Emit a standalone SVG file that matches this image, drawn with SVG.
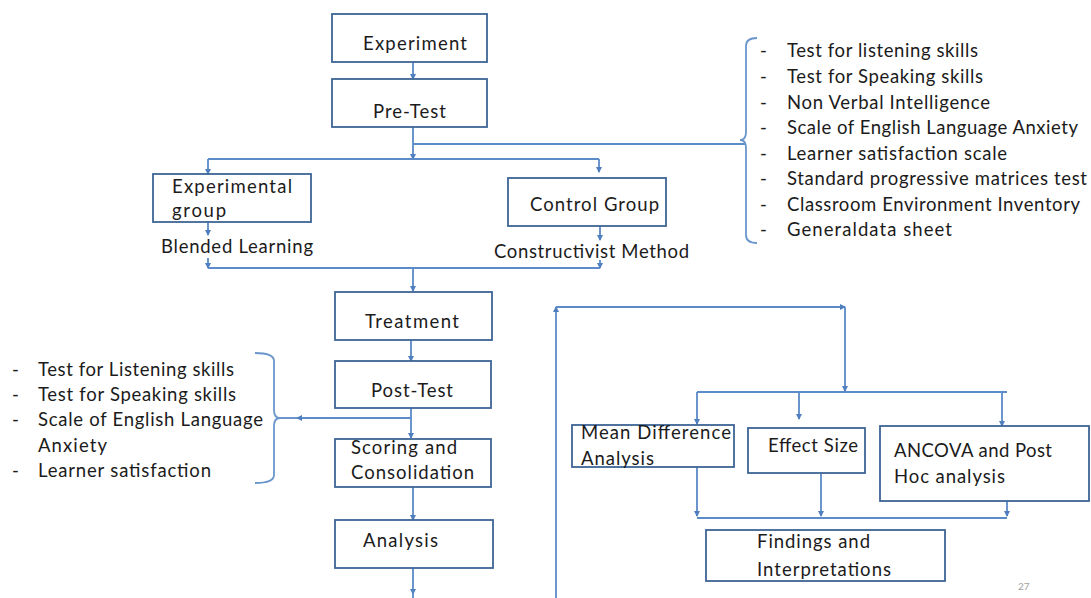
<svg xmlns="http://www.w3.org/2000/svg" width="1091" height="598" viewBox="0 0 1091 598">
<defs>
<marker id="ah" markerWidth="6" markerHeight="6" refX="5" refY="3" orient="auto" markerUnits="userSpaceOnUse">
<path d="M0,0 L6,3 L0,6 z" fill="#4f7fbf"/>
</marker>
<style>
.box{fill:#fff;stroke:#3d6496;stroke-width:1.8}
.c{fill:none;stroke:#5b8bc8;stroke-width:1.8}
.ca{fill:none;stroke:#5b8bc8;stroke-width:1.8;marker-end:url(#ah)}
.br{fill:none;stroke:#6a96cc;stroke-width:1.8}
text{font-family:Lato,"Liberation Sans",sans-serif;font-size:18.5px;fill:#1b1b1b}
.pg{font-size:10px;fill:#a0a0a0}
</style>
</defs>
<rect width="1091" height="598" fill="#fff"/>

<g id="connectors">
<path class="ca" d="M413,62 V79"/>
<path class="ca" d="M413,127 V159"/>
<path class="c" d="M413,144 H745"/>
<path class="c" d="M208,159 H599"/>
<path class="ca" d="M208,159 V174"/>
<path class="ca" d="M599,159 V172"/>
<path class="ca" d="M208,222 V235"/>
<path class="ca" d="M600,226 V240"/>
<path class="ca" d="M208,258 V268"/>
<path class="ca" d="M600,260 V268"/>
<path class="c" d="M208,268 H600"/>
<path class="ca" d="M413,268 V291"/>
<path class="ca" d="M411,340 V361"/>
<path class="ca" d="M411,408 V438"/>
<path class="ca" d="M411,418 H297"/>
<path class="c" d="M298,418 H276"/>
<path class="ca" d="M413,487 V520"/>
<path class="ca" d="M413,568 V594"/>
<path class="c" d="M413,590 V598"/>
<path class="ca" d="M556,598 V307"/>
<path class="ca" d="M556,307 H845"/>
<path class="ca" d="M845,307 V391"/>
<path class="c" d="M697,392 H1007"/>
<path class="ca" d="M697,392 V424"/>
<path class="ca" d="M799,392 V419"/>
<path class="ca" d="M1002,392 V426"/>
<path class="ca" d="M697,467 V516"/>
<path class="ca" d="M821,473 V516"/>
<path class="ca" d="M1007,501 V516"/>
<path class="c" d="M697,518 H1007"/>
<path class="br" d="M757,38 Q746,38 746,46 V132 Q746,140 740,140 Q746,140 746,148 V235 Q746,243 757,243"/>
<path class="br" d="M255,353 Q274,353 274,361 V410 Q274,418 280,418 Q274,418 274,426 V475 Q274,483 255,483"/>
</g>

<g id="experiment">
<rect class="box" x="332" y="14" width="155" height="48"/>
<text x="363" y="50" textLength="104">Experiment</text>
</g>
<g id="pretest">
<rect class="box" x="332" y="79" width="155" height="48"/>
<text x="373" y="118" textLength="73">Pre-Test</text>
</g>
<g id="experimental-group">
<rect class="box" x="153" y="174" width="158" height="48"/>
<text x="172" y="193" textLength="120">Experimental</text>
<text x="172" y="217" textLength="54">group</text>
</g>
<g id="blended">
<text x="161" y="253" textLength="152">Blended Learning</text>
</g>
<g id="control-group">
<rect class="box" x="508" y="178" width="158" height="48"/>
<text x="530" y="211" textLength="129">Control Group</text>
</g>
<g id="constructivist">
<text x="494" y="258" textLength="195">Constructivist Method</text>
</g>
<g id="pretest-list">
<text x="760" y="57">-</text><text x="787" y="57" textLength="191">Test for listening skills</text>
<text x="760" y="83">-</text><text x="787" y="83" textLength="196">Test for Speaking skills</text>
<text x="760" y="109">-</text><text x="787" y="109" textLength="203">Non Verbal Intelligence</text>
<text x="760" y="134">-</text><text x="787" y="134" textLength="291">Scale of English Language Anxiety</text>
<text x="760" y="160">-</text><text x="787" y="160" textLength="220">Learner satisfaction scale</text>
<text x="760" y="185">-</text><text x="787" y="185" textLength="300">Standard progressive matrices test</text>
<text x="760" y="211">-</text><text x="787" y="211" textLength="293">Classroom Environment Inventory</text>
<text x="760" y="236">-</text><text x="787" y="236" textLength="165">Generaldata sheet</text>
</g>
<g id="treatment">
<rect class="box" x="335" y="292" width="157" height="48"/>
<text x="365" y="328" textLength="94">Treatment</text>
</g>
<g id="posttest">
<rect class="box" x="335" y="361" width="156" height="47"/>
<text x="371" y="397" textLength="82">Post-Test</text>
</g>
<g id="posttest-list">
<text x="12" y="376">-</text><text x="38" y="376" textLength="196">Test for Listening skills</text>
<text x="12" y="401">-</text><text x="38" y="401" textLength="198">Test for Speaking skills</text>
<text x="12" y="426">-</text><text x="38" y="426" textLength="225">Scale of English Language</text>
<text x="38" y="452" textLength="69">Anxiety</text>
<text x="12" y="477">-</text><text x="38" y="477" textLength="173">Learner satisfaction</text>
</g>
<g id="scoring">
<rect class="box" x="335" y="439" width="156" height="48"/>
<text x="351" y="454" textLength="106">Scoring and</text>
<text x="351" y="479" textLength="123">Consolidation</text>
</g>
<g id="analysis">
<rect class="box" x="335" y="520" width="158" height="48"/>
<text x="363" y="547" textLength="75">Analysis</text>
</g>
<g id="mean-difference">
<rect class="box" x="572" y="425" width="162" height="42"/>
<text x="581" y="439" textLength="150">Mean Difference</text>
<text x="581" y="465" textLength="73">Analysis</text>
</g>
<g id="effect-size">
<rect class="box" x="748" y="428" width="117" height="45"/>
<text x="768" y="452" textLength="90">Effect Size</text>
</g>
<g id="ancova">
<rect class="box" x="880" y="426" width="209" height="75"/>
<text x="894" y="457" textLength="158">ANCOVA and Post</text>
<text x="894" y="483" textLength="111">Hoc analysis</text>
</g>
<g id="findings">
<rect class="box" x="706" y="530" width="239" height="51"/>
<text x="757" y="548" textLength="113">Findings and</text>
<text x="757" y="576" textLength="134">Interpretations</text>
</g>
<text class="pg" x="1018" y="590">27</text>
</svg>
